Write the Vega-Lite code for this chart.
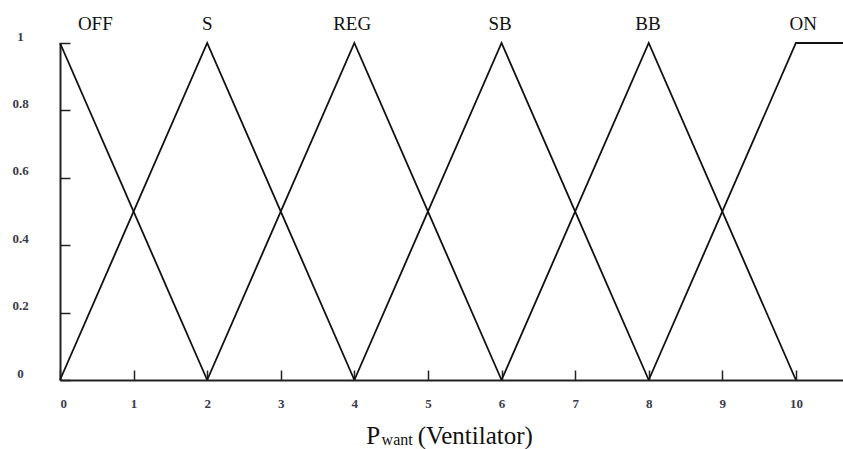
{
  "$schema": "https://vega.github.io/schema/vega-lite/v6.json",
  "width": 783,
  "height": 337,
  "autosize": {"type": "none"},
  "padding": {"left": 60, "top": 43, "right": 0, "bottom": 69},
  "background": "white",
  "config": {
    "view": {"stroke": null},
    "axis": {"grid": false, "domainColor": "#222222", "domainWidth": 2, "tickColor": "#222222", "tickWidth": 1.5, "labelFont": "Liberation Serif", "labelFontWeight": "bold", "labelColor": "#3a3a48", "labelFontSize": 13}
  },
  "datasets": {
    "curves": [
      {"set": "OFF", "x": 0, "y": 1, "k": 0}, {"set": "OFF", "x": 2, "y": 0, "k": 1},
      {"set": "S", "x": 0, "y": 0, "k": 0}, {"set": "S", "x": 2, "y": 1, "k": 1}, {"set": "S", "x": 4, "y": 0, "k": 2},
      {"set": "REG", "x": 2, "y": 0, "k": 0}, {"set": "REG", "x": 4, "y": 1, "k": 1}, {"set": "REG", "x": 6, "y": 0, "k": 2},
      {"set": "SB", "x": 4, "y": 0, "k": 0}, {"set": "SB", "x": 6, "y": 1, "k": 1}, {"set": "SB", "x": 8, "y": 0, "k": 2},
      {"set": "BB", "x": 6, "y": 0, "k": 0}, {"set": "BB", "x": 8, "y": 1, "k": 1}, {"set": "BB", "x": 10, "y": 0, "k": 2},
      {"set": "ON", "x": 8, "y": 0, "k": 0}, {"set": "ON", "x": 10, "y": 1, "k": 1}, {"set": "ON", "x": 10.64, "y": 1, "k": 2}
    ],
    "labels": [
      {"label": "OFF", "x": 0.48, "y": 1.04},
      {"label": "S", "x": 2.0, "y": 1.04},
      {"label": "REG", "x": 3.97, "y": 1.04},
      {"label": "SB", "x": 5.98, "y": 1.04},
      {"label": "BB", "x": 7.99, "y": 1.04},
      {"label": "ON", "x": 10.1, "y": 1.04}
    ],
    "titleMain": [
      {"text": "P", "x": 4.16, "y": -0.19},
      {"text": "(Ventilator)", "x": 4.86, "y": -0.19}
    ],
    "titleSub": [
      {"text": "want", "x": 4.37, "y": -0.194}
    ]
  },
  "layer": [
    {
      "data": {"name": "curves"},
      "mark": {"type": "line", "color": "#111111", "strokeWidth": 1.8},
      "encoding": {
        "x": {"field": "x", "type": "quantitative", "scale": {"domain": [0, 10.64], "nice": false, "zero": false},
              "axis": {"values": [0,1,2,3,4,5,6,7,8,9,10], "format": "d", "tickSize": -10, "labelPadding": 27, "title": null, "labelAngle": 0}},
        "y": {"field": "y", "type": "quantitative", "scale": {"domain": [0, 1], "nice": false},
              "axis": {"values": [0,0.2,0.4,0.6,0.8,1], "format": "~g", "tickSize": -10, "labelPadding": 50, "title": null, "labelAlign": "center", "labelBaseline": "bottom"}},
        "detail": {"field": "set"},
        "order": {"field": "k"}
      }
    },
    {
      "data": {"name": "labels"},
      "mark": {"type": "text", "font": "Liberation Serif", "fontSize": 19, "color": "#111111", "baseline": "alphabetic", "align": "center", "clip": false},
      "encoding": {
        "x": {"field": "x", "type": "quantitative"},
        "y": {"field": "y", "type": "quantitative"},
        "text": {"field": "label"}
      }
    },
    {
      "data": {"name": "titleMain"},
      "mark": {"type": "text", "font": "Liberation Serif", "fontSize": 25, "color": "#111111", "baseline": "alphabetic", "align": "left"},
      "encoding": {
        "x": {"field": "x", "type": "quantitative"},
        "y": {"field": "y", "type": "quantitative"},
        "text": {"field": "text"}
      }
    },
    {
      "data": {"name": "titleSub"},
      "mark": {"type": "text", "font": "Liberation Serif", "fontSize": 16, "color": "#111111", "baseline": "alphabetic", "align": "left"},
      "encoding": {
        "x": {"field": "x", "type": "quantitative"},
        "y": {"field": "y", "type": "quantitative"},
        "text": {"field": "text"}
      }
    }
  ]
}
